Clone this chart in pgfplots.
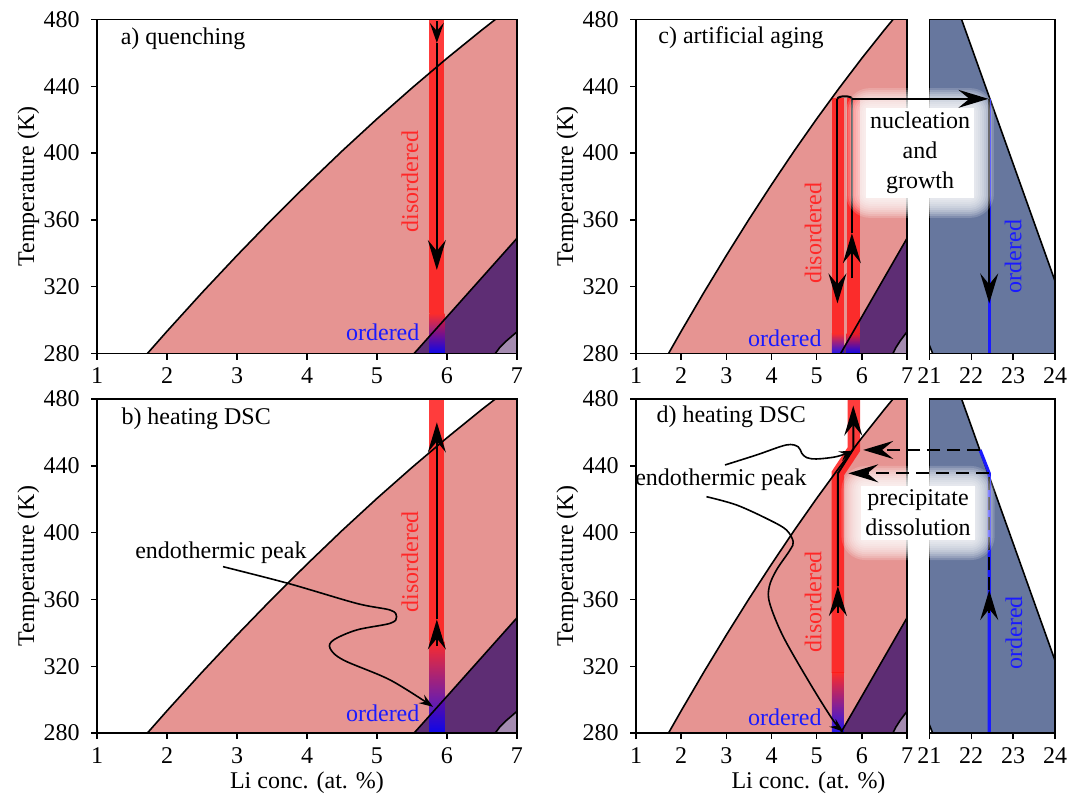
\documentclass[border=0pt]{standalone}
\usepackage{fontspec}
\setmainfont{Liberation Serif}
\usepackage{pgfplots}
\usepackage{pgfplotstable}
\pgfplotsset{compat=1.18}
\usetikzlibrary{arrows.meta}

\definecolor{pinkreg}{HTML}{E69492}
\definecolor{purpreg}{HTML}{5E2D74}
\definecolor{lpurp}{HTML}{A48BB0}
\definecolor{bluereg}{HTML}{67779E}
\definecolor{barred}{HTML}{FF1A1A}
\definecolor{txtred}{HTML}{FF2828}
\definecolor{ordblue}{HTML}{1A1AFF}

% phase boundaries
\pgfplotstableread{
x T
1.72 280
2.0 293.3
2.5 316.4
3.0 338.7
3.5 360.3
4.0 381.1
4.5 401.2
5.0 420.5
5.5 439.0
6.0 456.8
6.5 473.8
6.69 480.0
}\solvus
\pgfplotstableread{
x T
1.72 280
2.0 293.3
2.5 316.4
3.0 338.7
3.5 360.3
4.0 381.1
4.5 401.2
5.0 420.5
5.5 439.0
6.0 456.8
6.5 473.8
6.69 480.0
7.0 480
7.0 280
}\pinkfill
\pgfplotstableread{
x T
5.53 280
6.0 302
6.5 325.5
7.0 349
}\ordline
\pgfplotstableread{
x T
5.53 280
6.0 302
6.5 325.5
7.0 349
7.0 280
}\purpfill
\pgfplotstableread{
x T
6.69 280
6.75 283.4
6.85 287.6
7.0 293
}\lowline
\pgfplotstableread{
x T
6.69 280
6.75 283.4
6.85 287.6
7.0 293
7.0 280
}\lpfill
\pgfplotstableread{
x T
21.0 285
21.08 280
24.0 280
24.0 323.4
21.77 480
21.0 480
}\bluefill
\pgfplotstableread{
x T
21.77 480
24.0 323.4
}\rline
\pgfplotstableread{
x T
21.0 285
21.08 280
}\cornerline

\tikzset{
  bnd/.style={black, line width=0.8pt},
  arr/.style={black, line width=1pt, -{Stealth[length=15pt,width=9pt,inset=5.5pt]}},
  sarr/.style={black, line width=1pt, -{Stealth[length=10pt,width=7pt,inset=4pt]}},
  ann/.style={black, line width=0.8pt, -{Stealth[length=7pt,width=5pt,inset=2.5pt]}},
  redbar/.style={barred, opacity=0.85},
  grad/.style={draw=none, top color=barred, bottom color=blue, opacity=0.85},
}
\pgfplotsset{
  panel/.style={scale only axis, anchor=south west, height=167pt,
    ymin=280, ymax=480, ytick={280,320,...,480},
    tick align=outside, tick pos=left, major tick length=3pt,
    axis line style={line width=0.8pt},
    every tick/.append style={black, line width=0.7pt},
    tick label style={font=\fontsize{12}{14}\selectfont},
    yticklabel style={xshift=-1.5pt},
    label style={font=\fontsize{12}{14}\selectfont},
    ylabel shift=-6pt,
    /pgf/number format/assume math mode=true, axis on top},
  lpanel/.style={panel, xmin=1, xmax=7, xtick={1,...,7}, ylabel={Temperature (K)}},
  rpanel/.style={panel, xmin=21, xmax=24, xtick={21,...,24}, ytick=\empty, width=62.85pt},
}

\newcommand\leftphases{%
  \addplot[fill=pinkreg, draw=none] table {\pinkfill};
  \addplot[fill=purpreg, draw=none] table {\purpfill};
  \addplot[fill=lpurp, draw=none] table {\lpfill};
}
\newcommand\leftlines{%
  \addplot[bnd] table {\solvus};
  \addplot[bnd] table {\ordline};
  \addplot[bnd] table {\lowline};
}
\newcommand\rightphase{%
  \addplot[fill=bluereg, draw=none] table {\bluefill};
  \addplot[bnd] table {\rline};
  \addplot[bnd] table {\cornerline};
}
\newcommand\glow[2]{%
  \foreach \g in {12,11,...,3}{%
    \node[fill=white, fill opacity=0.17, text opacity=0, align=center,
      inner xsep=\g pt, inner ysep=\g pt, rounded corners=\g pt] at #1 {#2};}%
  \node[fill=white, align=center, inner sep=2pt] at #1 {#2};}

\begin{document}
\fontsize{12}{15}\selectfont
\begin{tikzpicture}
\useasboundingbox (0,0) rectangle (534.5pt,-398pt);

% ---------- a) quenching
\begin{axis}[lpanel, width=210pt, at={(48.5pt,-176.75pt)}]
\leftphases
\addplot[redbar, line width=7.5pt] coordinates {(5.855,304) (5.855,480)};
\addplot[grad] coordinates {(5.748,280) (5.962,280) (5.962,304) (5.748,304)};
\leftlines
\addplot[sarr] coordinates {(5.855,479) (5.855,466)};
\addplot[arr] coordinates {(5.855,466) (5.855,330)};
\node[anchor=west] at (axis cs:1.22,468.7) {a)\ quenching};
\node[txtred, rotate=90] at (axis cs:5.47,383) {disordered};
\node[ordblue, anchor=east, inner sep=1pt] at (axis cs:5.64,292.5) {ordered};
\end{axis}

% ---------- b) heating DSC
\begin{axis}[lpanel, width=210pt, at={(48.5pt,-366.5pt)}, xlabel={Li conc. (at. \%)},
  xlabel style={yshift=4pt}]
\leftphases
\addplot[redbar, line width=7.5pt] coordinates {(5.855,335) (5.855,480)};
\addplot[grad] coordinates {(5.748,280) (5.962,280) (5.962,335) (5.748,335)};
\leftlines
\addplot[arr] coordinates {(5.855,332) (5.855,348)};
\addplot[arr] coordinates {(5.855,348) (5.855,466)};
\addplot[ann, smooth, tension=0.55] coordinates {
  (2.80,379.6) (3.73,369.6) (4.71,357.6) (5.19,353.6) (5.28,349.6) (5.19,345.7)
  (4.71,341.7) (4.38,335.7) (4.33,330.7) (4.52,323.7) (5.19,311.7) (5.80,295.7)};
\node[anchor=west] at (axis cs:1.23,468.4) {b)\ heating DSC};
\node at (axis cs:2.77,387.8) {endothermic peak};
\node[txtred, rotate=90] at (axis cs:5.47,382.6) {disordered};
\node[ordblue, anchor=east, inner sep=1pt] at (axis cs:5.64,292) {ordered};
\end{axis}

% ---------- c) artificial aging, left part
\begin{axis}[lpanel, width=135.5pt, at={(318pt,-176.75pt)}]
\leftphases
\addplot[redbar, line width=6pt] coordinates {(5.47,292) (5.47,433)};
\addplot[redbar, line width=6.5pt] coordinates {(5.805,292) (5.805,433)};
\addplot[grad] coordinates {(5.338,280) (5.602,280) (5.602,292) (5.338,292)};
\addplot[grad] coordinates {(5.661,280) (5.949,280) (5.949,292) (5.661,292)};
\leftlines
\draw[black, line width=1pt] (axis cs:5.46,432.5) .. controls (axis cs:5.46,434.5) and (axis cs:5.78,434.5) .. (axis cs:5.78,432.5);
\addplot[arr] coordinates {(5.46,432.5) (5.46,310)};
\addplot[arr] coordinates {(5.78,325) (5.78,352)};
\addplot[black, line width=1pt] coordinates {(5.78,352) (5.78,432.5)};
\coordinate (cA) at (axis cs:5.78,432.5);
\node[anchor=west] at (axis cs:1.31,469) {c)\ artificial aging};
\node[txtred, rotate=90] at (axis cs:4.92,352) {disordered};
\node[ordblue, anchor=east, inner sep=1pt] at (axis cs:5.16,289) {ordered};
\end{axis}

% ---------- c) right part
\begin{axis}[rpanel, at={(464.65pt,-176.75pt)}]
\rightphase
\addplot[ordblue, line width=1.6pt] coordinates {(22.43,280) (22.43,432.5)};
\addplot[arr] coordinates {(22.43,432.5) (22.43,310)};
\coordinate (cB) at (axis cs:22.41,432.5);
\node[ordblue, rotate=90] at (axis cs:23.0,338) {ordered};
\end{axis}

% ---------- d) heating DSC, left part
\begin{axis}[lpanel, width=135.5pt, at={(318pt,-366.5pt)}, xlabel={Li conc. (at. \%)},
  xlabel style={xshift=18.5pt, yshift=4pt}]
\leftphases
\addplot[redbar, line width=6.2pt] coordinates {(5.47,316) (5.47,435.5) (5.825,450) (5.825,480)};
\addplot[grad] coordinates {(5.338,280) (5.602,280) (5.602,316) (5.338,316)};
\leftlines
\addplot[arr] coordinates {(5.47,352) (5.47,368)};
\addplot[arr] coordinates {(5.47,368) (5.47,435.5) (5.81,450) (5.81,476)};
\addplot[ann, smooth, tension=0.55] coordinates {
  (2.97,440.5) (3.67,446.5) (4.33,452.5) (4.59,451.4) (4.67,447.5) (4.78,444.9)
  (5.0,444.1) (5.44,445.5) (5.81,449.0)};
\addplot[ann, smooth, tension=0.55] coordinates {
  (2.56,421.5) (3.23,416.5) (3.96,407.5) (4.33,401.6) (4.48,394.6) (4.41,389.6)
  (4.11,377.6) (3.95,367.6) (3.96,357.7) (4.26,337.7) (4.85,309.8) (5.36,287.8) (5.59,280.8)};
\coordinate (dA) at (axis cs:6.03,449.5);
\coordinate (dB) at (axis cs:5.70,435.5);
\node[anchor=west] at (axis cs:1.27,469.4) {d)\ heating DSC};
\node at (axis cs:2.88,431.5) {endothermic peak};
\node[txtred, rotate=90] at (axis cs:4.92,358.6) {disordered};
\node[ordblue, anchor=east, inner sep=1pt] at (axis cs:5.16,289.7) {ordered};
\end{axis}

% ---------- d) right part
\begin{axis}[rpanel, at={(464.65pt,-366.5pt)}]
\rightphase
\addplot[ordblue, line width=1.6pt] coordinates {(22.43,280) (22.43,435.5) (22.21,449.5)};
\addplot[arr] coordinates {(22.43,351.7) (22.43,365.6)};
\addplot[black, line width=1pt, dash pattern=on 6.5pt off 3.5pt] coordinates {(22.43,365.6) (22.43,435.5)};
\coordinate (dC) at (axis cs:22.21,449.5);
\coordinate (dD) at (axis cs:22.43,435.5);
\node[ordblue, rotate=90] at (axis cs:23.02,340) {ordered};
\end{axis}

% text boxes with a soft white halo
\glow{(460pt,-76.5pt)}{nucleation\\and\\growth}
\glow{(459pt,-256.5pt)}{precipitate\\dissolution}

% arrows running across the axis break
\draw[arr] (cA) -- (cB);
\draw[arr, dash pattern=on 6.5pt off 3.5pt] (dC) -- (dA);
\draw[arr, dash pattern=on 6.5pt off 3.5pt] (dD) -- (dB);
\end{tikzpicture}
\end{document}
